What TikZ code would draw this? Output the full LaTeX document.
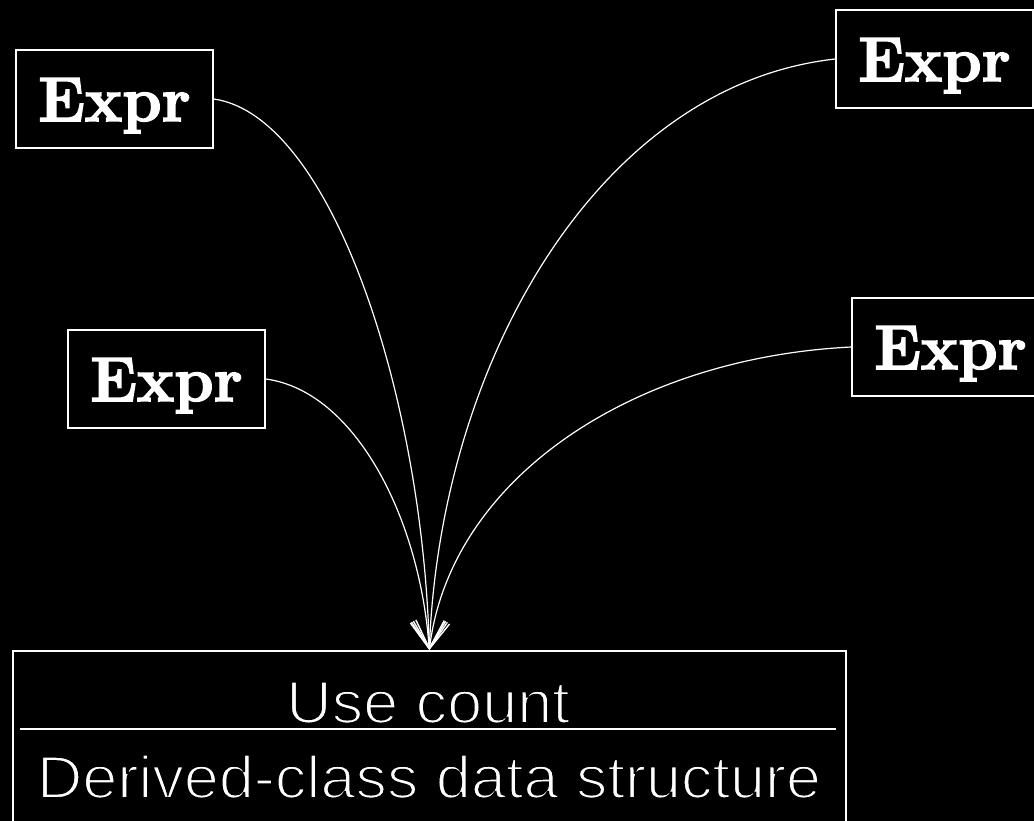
\documentclass[tikz,border=0pt]{standalone}
\usepackage{fontspec}
\newfontfamily\labelsans[FakeStretch=1.05]{Liberation Sans}
\usetikzlibrary{arrows.meta}
% outline tracing of glyphs: black traces make the stems thinner,
% white traces make them heavier
\newcommand\lighttext[1]{\special{pdf:literal direct 2 Tr 2 w 0 0 0 RG}#1\special{pdf:literal direct 0 Tr}}
\newcommand\heavytext[1]{\special{pdf:literal direct 2 Tr 1.6 w 1 1 1 RG}#1\special{pdf:literal direct 0 Tr}}
\begin{document}
\begin{tikzpicture}[x=1pt,y=-1pt]
\tikzset{
  exprbox/.style={draw=white, line width=1.6pt, minimum width=197pt,
    minimum height=98pt, inner sep=0pt, text height=44pt, text depth=0pt,
    font=\fontsize{63}{70}\selectfont\bfseries, text=white},
  objbox/.style={draw=white, line width=1.6pt, minimum width=833pt,
    minimum height=200pt, inner sep=0pt, anchor=north west},
  objtext/.style={anchor=base, inner sep=0pt, text=white,
    font=\labelsans\fontsize{60}{66}\selectfont},
  link/.style={draw=white, line width=1.2pt,
    -{Straight Barb[length=27pt,width=34pt,line width=1.4pt]}},
}
% black page and clipping frame
\fill[black] (0,0) rectangle (1034,821);
\clip (0,0) rectangle (1034,821);

% handles
\node[exprbox] (e1) at (114.5,99)  {\heavytext{Expr}};
\node[exprbox] (e2) at (934.5,59)  {\heavytext{Expr}};
\node[exprbox] (e3) at (166.5,379) {\heavytext{Expr}};
\node[exprbox] (e4) at (950.5,347) {\heavytext{Expr}};

% shared object with use count
\node[objbox] (obj) at (12,650) {};
\coordinate (divL) at (20,729);
\coordinate (divR) at (836,729);
\draw[white, line width=1.6pt] (divL) -- (divR);
\node[objtext] (uc) at (428,723) {\lighttext{Use count}};
\node[objtext] (ds) at (429,798) {\lighttext{Derived-class data structure}};

% pointers from each handle to the shared object
\draw[link] (e1.east) .. controls (332,116) and (423,398) .. (obj.north);
\draw[link] (e2.west) .. controls (600,85) and (440,360) .. (obj.north);
\draw[link] (e3.east) .. controls (355,391) and (420,518) .. (obj.north);
\draw[link] (e4.west) .. controls (630,358) and (450,480) .. (obj.north);
\end{tikzpicture}
\end{document}
